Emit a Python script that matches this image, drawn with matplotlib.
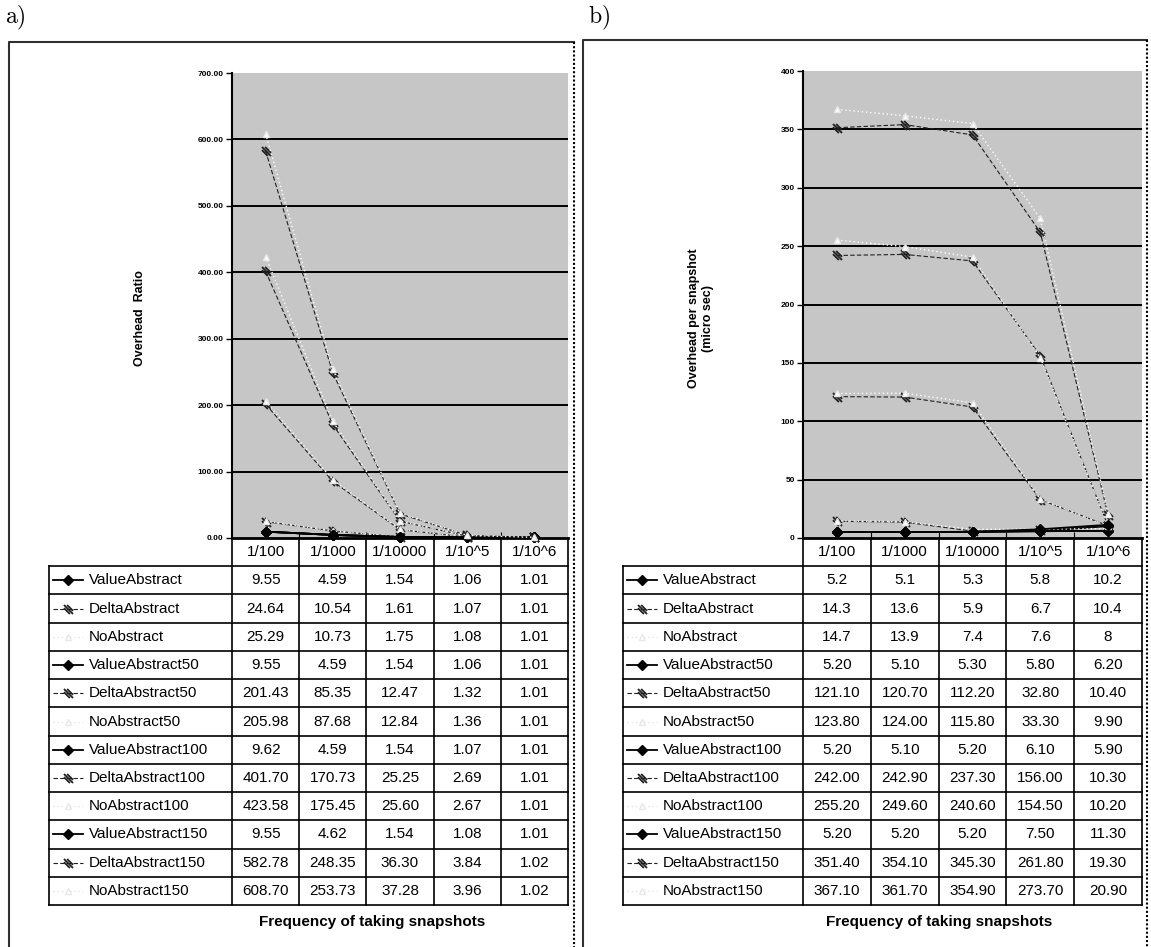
import matplotlib.pyplot as plt
from matplotlib.path import Path
from matplotlib.ticker import FormatStrFormatter
from matplotlib.lines import Line2D

plt.rcParams['font.family'] = ['Liberation Sans', 'DejaVu Sans']
plt.rcParams['mathtext.fontset'] = 'cm'

W, H = 1151, 947

categories = ["1/100", "1/1000", "1/10000", "1/10^5", "1/10^6"]
series_names = ["ValueAbstract", "DeltaAbstract", "NoAbstract",
                "ValueAbstract50", "DeltaAbstract50", "NoAbstract50",
                "ValueAbstract100", "DeltaAbstract100", "NoAbstract100",
                "ValueAbstract150", "DeltaAbstract150", "NoAbstract150"]

# a) overhead ratio
ratio_value = [9.55, 4.59, 1.54, 1.06, 1.01]
ratio_delta = [24.64, 10.54, 1.61, 1.07, 1.01]
ratio_no = [25.29, 10.73, 1.75, 1.08, 1.01]
ratio_value50 = [9.55, 4.59, 1.54, 1.06, 1.01]
ratio_delta50 = [201.43, 85.35, 12.47, 1.32, 1.01]
ratio_no50 = [205.98, 87.68, 12.84, 1.36, 1.01]
ratio_value100 = [9.62, 4.59, 1.54, 1.07, 1.01]
ratio_delta100 = [401.70, 170.73, 25.25, 2.69, 1.01]
ratio_no100 = [423.58, 175.45, 25.60, 2.67, 1.01]
ratio_value150 = [9.55, 4.62, 1.54, 1.08, 1.01]
ratio_delta150 = [582.78, 248.35, 36.30, 3.84, 1.02]
ratio_no150 = [608.70, 253.73, 37.28, 3.96, 1.02]

# b) overhead per snapshot (micro sec)
snap_value = [5.2, 5.1, 5.3, 5.8, 10.2]
snap_delta = [14.3, 13.6, 5.9, 6.7, 10.4]
snap_no = [14.7, 13.9, 7.4, 7.6, 8]
snap_value50 = [5.20, 5.10, 5.30, 5.80, 6.20]
snap_delta50 = [121.10, 120.70, 112.20, 32.80, 10.40]
snap_no50 = [123.80, 124.00, 115.80, 33.30, 9.90]
snap_value100 = [5.20, 5.10, 5.20, 6.10, 5.90]
snap_delta100 = [242.00, 242.90, 237.30, 156.00, 10.30]
snap_no100 = [255.20, 249.60, 240.60, 154.50, 10.20]
snap_value150 = [5.20, 5.20, 5.20, 7.50, 11.30]
snap_delta150 = [351.40, 354.10, 345.30, 261.80, 19.30]
snap_no150 = [367.10, 361.70, 354.90, 273.70, 20.90]

ratio_rows = [ratio_value, ratio_delta, ratio_no, ratio_value50, ratio_delta50, ratio_no50,
              ratio_value100, ratio_delta100, ratio_no100, ratio_value150, ratio_delta150, ratio_no150]
snap_rows = [snap_value, snap_delta, snap_no, snap_value50, snap_delta50, snap_no50,
             snap_value100, snap_delta100, snap_no100, snap_value150, snap_delta150, snap_no150]
ratio_fmts = ['{:.2f}'] * 12
snap_fmts = ['{:g}'] * 3 + ['{:.2f}'] * 9

# hatched square marker, like the Excel one
HATCH = Path([(-1, 0.3), (0.3, -1), (-1, 1), (1, -1), (-0.3, 1), (1, -0.3)],
             [Path.MOVETO, Path.LINETO] * 3)

line_styles = [
    dict(color='black', lw=1.3, ls='-'),
    dict(color='#202020', lw=0.8, ls=(0, (4, 2))),
    dict(color='white', lw=1.0, ls=(0, (1, 2))),
]
marker_styles = [
    dict(marker='D', ms=5, mfc='black', mec='black'),
    dict(marker=HATCH, ms=6.5, mec='#202020', mew=1.3),
    dict(marker='^', ms=5, mfc='white', mec='#e8e8e8'),
]

fig = plt.figure(figsize=(W / 100, H / 100), dpi=100)


def px_rect(x0, y0, x1, y1):
    return [x0 / W, 1 - y1 / H, (x1 - x0) / W, (y1 - y0) / H]


def fig_line(xs, ys, **kw):
    fig.add_artist(Line2D([x / W for x in xs], [1 - y / H for y in ys],
                          transform=fig.transFigure, **kw))


def panel(rows, fmts, ax_x0, ax_x1, ax_top, tab_x0, ymax, ystep, tickfmt,
          ylabel, ylabel_x, freq_x):
    ax_bottom, tab_bottom = 538, 905
    ax = fig.add_axes(px_rect(ax_x0, ax_top, ax_x1, ax_bottom))
    ax.set_facecolor('#c6c6c6')
    ax.set_xlim(-0.5, 4.5)
    ax.set_ylim(0, ymax)
    ticks = list(range(0, ymax + 1, ystep))
    ax.set_yticks(ticks)
    ax.yaxis.set_major_formatter(FormatStrFormatter(tickfmt))
    for v in ticks[1:-1]:
        ax.axhline(v, color='black', lw=1.4, zorder=1)
    for s in ['top', 'right']:
        ax.spines[s].set_visible(False)
    ax.spines['left'].set_linewidth(1.5)
    ax.spines['bottom'].set_linewidth(2)
    ax.set_xticks([i + 0.5 for i in range(4)])
    ax.tick_params(axis='x', direction='in', length=4, labelbottom=False)
    ax.tick_params(axis='y', length=4, width=1, labelsize=6, pad=2)
    for lab in ax.get_yticklabels():
        lab.set_fontweight('bold')
    x = list(range(len(categories)))
    for i, vals in enumerate(rows):
        k = i % 3
        ax.plot(x, vals, zorder=3, clip_on=False, **line_styles[k], **marker_styles[k])

    # data table under the plot
    colw = (ax_x1 - ax_x0) / 5
    legw = (ax_x0 - tab_x0) / colw
    xl = -0.5 - legw
    tab = fig.add_axes(px_rect(tab_x0, ax_bottom, ax_x1, tab_bottom))
    tab.axis('off')
    tab.set_xlim(xl, 4.5)
    tab.set_ylim(12, -1)
    for j in range(6):
        tab.plot([j - 0.5, j - 0.5], [-1, 12], color='black', lw=1.2, clip_on=False)
    tab.plot([xl, xl], [0, 12], color='black', lw=1.2, clip_on=False)
    for r in range(13):
        tab.plot([xl, 4.5], [r, r], color='black', lw=1.2, clip_on=False)
    for j, c in enumerate(categories):
        tab.text(j, -0.5, c, ha='center', va='center', fontsize=11)
    for r, (name, vals) in enumerate(zip(series_names, rows)):
        k = r % 3
        y = r + 0.5
        key_style = dict(line_styles[k])
        if k == 2:
            key_style['color'] = '#e4e4e4'
        tab.plot([xl + 4 / colw, xl + 34 / colw], [y, y], **key_style)
        tab.plot([xl + 19 / colw], [y], ls='none', **marker_styles[k])
        tab.text(xl + 40 / colw, y, name, ha='left', va='center', fontsize=11)
        for j, v in enumerate(vals):
            tab.text(j, y, fmts[r].format(v), ha='center', va='center', fontsize=11)

    fig.text(freq_x / W, 1 - 922 / H, 'Frequency of taking snapshots',
             ha='center', va='center', fontsize=11, fontweight='bold')
    fig.text(ylabel_x / W, 1 - 318 / H, ylabel, ha='center', va='center',
             rotation=90, fontsize=9, fontweight='bold', linespacing=1.3)


panel(ratio_rows, ratio_fmts, 232, 568, 73, 49, 700, 100, '%.2f',
      'Overhead  Ratio', 140, 372)
panel(snap_rows, snap_fmts, 803, 1142, 71, 623, 400, 50, '%d',
      'Overhead per snapshot\n(micro sec)', 701, 939)

# chart frames
fig_line([9, 9, 574], [960, 42, 42], color='#303030', lw=1.5)
fig_line([574, 574], [42, 960], color='black', lw=1.5, ls=(0, (1, 1)))
fig_line([583, 583, 1147], [960, 40, 40], color='#303030', lw=1.5)
fig_line([1147, 1147], [40, 960], color='black', lw=1.5, ls=(0, (1, 1)))

fig.text(5 / W, 1 - 18 / H, r'$\mathrm{a)}$', ha='left', va='center', fontsize=17)
fig.text(588 / W, 1 - 18 / H, r'$\mathrm{b)}$', ha='left', va='center', fontsize=17)

fig.savefig('out.png', dpi=100)
